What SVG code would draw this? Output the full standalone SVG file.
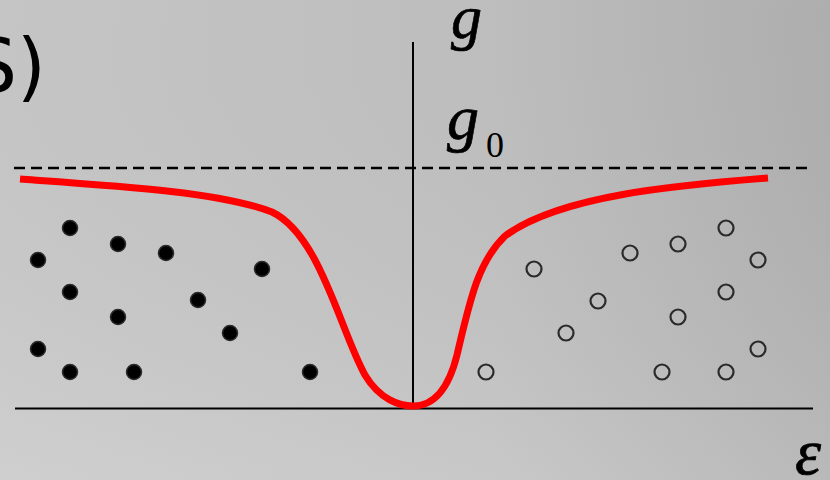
<svg xmlns="http://www.w3.org/2000/svg" width="830" height="480" viewBox="0 0 830 480">
<defs>
<linearGradient id="bg" x1="0" y1="0" x2="1" y2="0">
<stop offset="0" stop-color="#cbcbcb"/>
<stop offset="0.6" stop-color="#c3c3c3"/>
<stop offset="1" stop-color="#b3b3b3"/>
</linearGradient>
<linearGradient id="bgv" x1="0" y1="0" x2="0" y2="1">
<stop offset="0" stop-color="#000" stop-opacity="0.03"/>
<stop offset="1" stop-color="#fff" stop-opacity="0.08"/>
</linearGradient>
</defs>
<style>
.f{fill:#000;stroke:#2b2b2b;stroke-width:1.5}
.o{fill:none;stroke:#2a2a2a;stroke-width:2.2}
.ax{stroke:#000;stroke-width:2;fill:none}
.lbl{font-family:"Liberation Serif",serif;font-style:italic;fill:#000;stroke:#000;stroke-width:0.7}
</style>
<rect width="830" height="480" fill="url(#bg)"/>
<rect width="830" height="480" fill="url(#bgv)"/>
<text x="-30" y="92" font-family="'DejaVu Sans',sans-serif" font-size="74" fill="#000">S)</text>
<g id="axes">
<line class="ax" x1="413" y1="42" x2="413" y2="409"/>
<line class="ax" x1="15" y1="408.5" x2="813" y2="408.5"/>
<line x1="14" y1="168" x2="810" y2="168" stroke="#000" stroke-width="2.5" stroke-dasharray="11,6"/>
</g>
<text class="lbl" x="451" y="38" font-size="62">g</text>
<text class="lbl" x="447" y="139" font-size="64">g</text>
<text x="486" y="157" font-family="'Liberation Serif',serif" font-size="36" fill="#000">0</text>
<text class="lbl" x="795" y="474" font-size="66">ε</text>
<path id="curve" d="M20,179 C120,186 220,192 272,212 C320,235 340,330 365,375 C380,400 400,406 413,406 C430,406 447,395 457,355 C470,300 478,262 505,236 C560,195 680,185 768,178" fill="none" stroke="#ff0000" stroke-width="7"/>
<g id="filled">
<circle class="f" cx="70" cy="228" r="7.5"/>
<circle class="f" cx="118" cy="244" r="7.5"/>
<circle class="f" cx="166" cy="253" r="7.5"/>
<circle class="f" cx="38" cy="260" r="7.5"/>
<circle class="f" cx="262" cy="269" r="7.5"/>
<circle class="f" cx="70" cy="292" r="7.5"/>
<circle class="f" cx="198" cy="300" r="7.5"/>
<circle class="f" cx="118" cy="317" r="7.5"/>
<circle class="f" cx="230" cy="333" r="7.5"/>
<circle class="f" cx="38" cy="349" r="7.5"/>
<circle class="f" cx="70" cy="372" r="7.5"/>
<circle class="f" cx="134" cy="372" r="7.5"/>
<circle class="f" cx="310" cy="372" r="7.5"/>
</g>
<g id="open">
<circle class="o" cx="726" cy="228" r="7.5"/>
<circle class="o" cx="678" cy="244" r="7.5"/>
<circle class="o" cx="630" cy="253" r="7.5"/>
<circle class="o" cx="758" cy="260" r="7.5"/>
<circle class="o" cx="534" cy="269" r="7.5"/>
<circle class="o" cx="726" cy="292" r="7.5"/>
<circle class="o" cx="598" cy="301" r="7.5"/>
<circle class="o" cx="678" cy="317" r="7.5"/>
<circle class="o" cx="566" cy="333" r="7.5"/>
<circle class="o" cx="758" cy="349" r="7.5"/>
<circle class="o" cx="486" cy="372" r="7.5"/>
<circle class="o" cx="662" cy="372" r="7.5"/>
<circle class="o" cx="726" cy="372" r="7.5"/>
</g>
</svg>
